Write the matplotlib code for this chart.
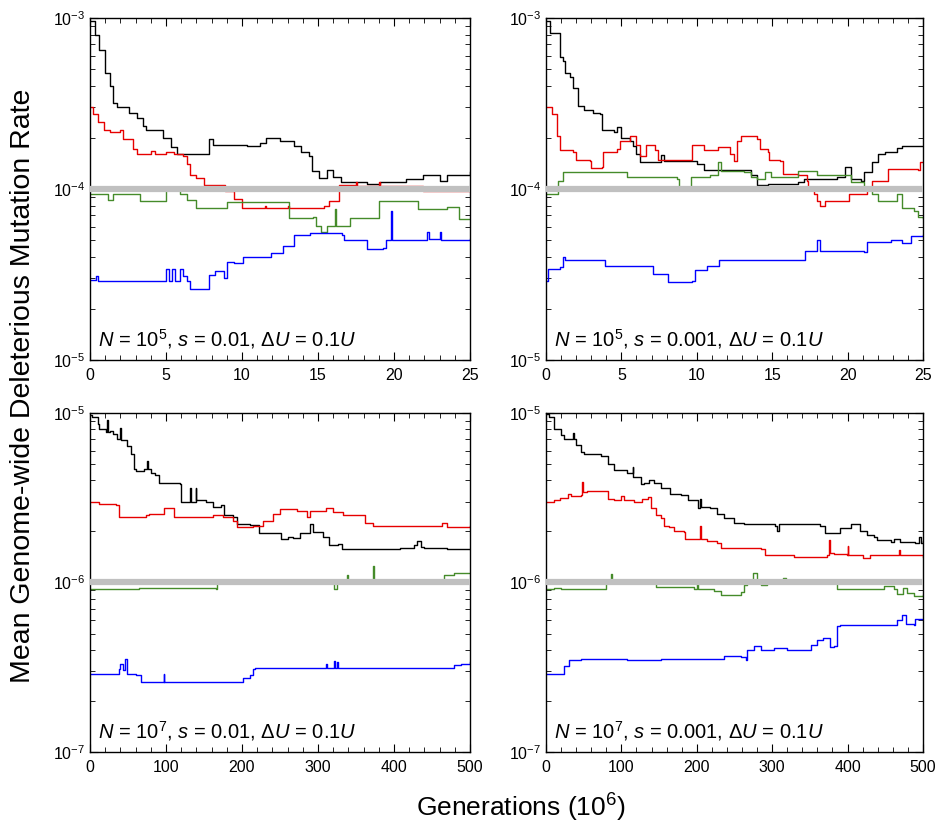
import numpy as np
import matplotlib
matplotlib.use("Agg")
import matplotlib.pyplot as plt
from matplotlib.ticker import LogLocator, MultipleLocator, LogFormatterSciNotation, NullFormatter

plt.rcParams['font.family'] = ['Liberation Sans', 'DejaVu Sans']
plt.rcParams['mathtext.fontset'] = 'custom'
plt.rcParams['mathtext.rm'] = 'Liberation Sans'
plt.rcParams['mathtext.it'] = 'Liberation Sans:italic'

# ---- panel A: N=1e5, s=0.01 (values in units of 1e-4, time in 1e6 generations)
a_black_t = [0, 0.3, 0.6, 1.0, 1.3, 1.5, 1.8, 2.4, 2.6, 3.1, 3.5, 3.7, 4.5, 4.8, 5.3, 5.7, 7.5, 7.8, 8.1, 9.0,
             10.3, 11.2, 11.6, 12.5, 13.4, 13.9, 14.4, 14.6, 15.1, 15.6, 16.0, 16.5, 18.2, 19.1, 20.8, 21.9,
             23.0, 23.5, 24.3, 25]
a_black_v = [9.6, 8.0, 6.5, 4.8, 4.0, 3.2, 3.0, 3.0, 2.8, 2.6, 2.35, 2.2, 2.2, 2.0, 1.75, 1.6, 1.6, 1.95, 1.8, 1.8,
             1.78, 1.85, 1.98, 1.9, 1.78, 1.65, 1.55, 1.28, 1.16, 1.3, 1.18, 1.1, 1.07, 1.1, 1.15, 1.2,
             1.12, 1.2, 1.2, 1.25]
a_red_t = [0, 0.2, 0.5, 0.9, 1.3, 2.0, 2.2, 2.85, 3.1, 4.0, 4.3, 5.0, 5.5, 6.1, 6.4, 6.6, 7.0, 7.5, 8.8, 8.9,
           9.5, 10.0, 11.5, 11.6, 13.0, 13.1, 15.4, 15.7, 16.4, 17.5, 17.6, 19.0, 19.1, 21.9, 25]
a_red_v = [3.0, 2.75, 2.45, 2.2, 2.15, 2.2, 1.95, 1.72, 1.6, 1.66, 1.6, 1.65, 1.6, 1.55, 1.4, 1.2, 1.16, 1.05, 1.05, 0.97,
           0.87, 0.77, 0.8, 0.77, 0.8, 0.77, 0.8, 0.85, 1.05, 1.1, 1.04, 1.1, 1.04, 0.97, 0.97]
a_green_t = [0, 0.66, 1.2, 1.5, 3.3, 5.0, 5.9, 6.4, 7.0, 8.8, 9.0, 13.0, 13.1, 14.7, 14.9, 15.2, 15.6, 16.1, 16.2,
             16.9, 17.1, 18.9, 19.0, 21.4, 21.6, 23.5, 24.3, 25]
a_green_v = [0.93, 0.94, 0.86, 0.93, 0.85, 1.02, 0.94, 0.86, 0.77, 0.77, 0.84, 0.84, 0.68, 0.69, 0.61, 0.56, 0.61, 0.76, 0.61,
             0.61, 0.68, 0.68, 0.85, 0.85, 0.76, 0.78, 0.67, 0.67]
a_blue_t = [0, 0.4, 0.5, 4.8, 5.0, 5.2, 5.4, 5.6, 5.9, 6.1, 6.4, 6.6, 7.7, 7.8, 8.2, 8.8, 9.0, 9.5, 10.1, 11.9,
            12.7, 13.4, 14.5, 16.6, 16.7, 18.2, 19.3, 19.5, 19.8, 19.9, 22.2, 22.3, 23.0, 23.1, 25]
a_blue_v = [0.295, 0.31, 0.29, 0.29, 0.34, 0.29, 0.34, 0.29, 0.34, 0.31, 0.29, 0.26, 0.26, 0.315, 0.33, 0.30, 0.375, 0.37, 0.40, 0.42,
            0.465, 0.54, 0.55, 0.54, 0.50, 0.445, 0.45, 0.505, 0.74, 0.505, 0.56, 0.51, 0.56, 0.505, 0.51]

# ---- panel B: N=1e5, s=0.001 (units 1e-4)
b_black_t = [0, 0.27, 0.9, 1.15, 1.25, 1.6, 1.8, 2.15, 2.5, 3.15, 3.6, 3.7, 4.5, 4.7, 5.0, 5.6, 5.8, 6.0, 6.25, 7.4,
             7.6, 7.8, 9.6, 10.0, 10.5, 13.1, 13.6, 14.0, 14.7, 16.7, 17.1, 19.3, 19.8, 20.2, 20.9, 21.1, 21.6,
             22.0, 22.5, 23.3, 23.6, 25]
b_black_v = [9.6, 8.2, 5.9, 5.6, 4.75, 4.5, 3.9, 3.05, 2.9, 2.8, 2.75, 2.2, 2.15, 2.3, 2.0, 1.9, 1.78, 1.6, 1.43, 1.43,
             1.57, 1.45, 1.45, 1.4, 1.3, 1.3, 1.2, 1.05, 1.07, 1.1, 1.15, 1.17, 1.35, 1.15, 1.12, 1.25, 1.43,
             1.6, 1.65, 1.73, 1.78, 1.78]
b_red_t = [0, 0.38, 0.7, 0.93, 1.8, 2.0, 2.9, 3.0, 3.7, 3.8, 4.7, 4.9, 5.6, 6.0, 6.25, 6.6, 7.25, 7.4, 9.6, 9.7,
           10.5, 11.4, 12.2, 12.5, 12.7, 12.9, 13.6, 14.0, 14.2, 14.7, 14.8, 15.5, 15.7, 16.7, 17.3, 17.4, 17.8,
           18.0, 18.2, 18.5, 19.8, 20.1, 21.1, 21.3, 21.6, 22.5, 22.7, 24.7, 24.8, 25]
b_red_v = [3.0, 2.75, 2.05, 1.68, 1.65, 1.47, 1.45, 1.33, 1.35, 1.65, 1.72, 1.9, 2.03, 1.8, 1.55, 1.8, 1.68, 1.47, 1.47, 1.8,
           1.68, 1.75, 1.6, 1.45, 1.9, 2.05, 2.03, 1.95, 1.72, 1.65, 1.47, 1.45, 1.22, 1.2, 1.12, 0.98, 0.93,
           0.85, 0.8, 0.85, 0.85, 0.94, 0.94, 1.02, 1.12, 1.12, 1.31, 1.3, 1.43, 1.43]
b_green_t = [0, 0.38, 0.8, 1.15, 5.1, 5.4, 6.7, 8.7, 8.8, 9.6, 10.9, 11.4, 11.6, 13.1, 13.6, 14.0, 14.5, 14.9, 16.7,
             17.8, 18.0, 19.1, 20.2, 21.1, 21.6, 22.0, 23.1, 23.3, 23.6, 24.4, 24.7, 25]
b_green_v = [0.93, 0.94, 1.12, 1.25, 1.26, 1.18, 1.17, 1.15, 1.0, 1.18, 1.2, 1.43, 1.28, 1.25, 1.18, 1.15, 1.25, 1.18, 1.28,
             1.28, 1.2, 1.2, 1.1, 1.0, 0.94, 0.85, 0.85, 0.94, 0.77, 0.74, 0.69, 0.68]
b_blue_t = [0, 0.15, 0.9, 1.15, 1.26, 3.8, 3.9, 7.0, 7.1, 8.0, 8.1, 9.7, 9.9, 10.7, 11.5, 17.1, 17.2, 18.0, 18.2,
            21.1, 21.3, 22.9, 23.6, 24.2, 25]
b_blue_v = [0.29, 0.34, 0.35, 0.40, 0.385, 0.385, 0.355, 0.355, 0.32, 0.32, 0.285, 0.29, 0.335, 0.355, 0.385, 0.385, 0.435, 0.505, 0.435,
            0.43, 0.49, 0.5, 0.48, 0.53, 0.54]

# ---- panel C: N=1e7, s=0.01 (units 1e-6)
c_black_t = [0, 3, 10, 12, 21, 23, 24, 27, 30, 36, 40, 41, 49, 54, 58, 60, 71, 75, 77, 80, 85, 91, 118, 120,
             132, 133, 139, 140, 153, 162, 173, 177, 188, 193, 210, 223, 245, 252, 261, 267, 276, 289, 294,
             307, 314, 327, 331, 382, 408, 426, 430, 435, 439, 470, 500]
c_black_v = [9.7, 9.5, 8.6, 8.0, 7.7, 9.1, 7.7, 7.8, 7.5, 7.0, 8.2, 6.9, 6.4, 5.75, 4.7, 4.55, 4.7, 5.2, 4.7, 4.4, 4.3, 3.85, 3.8, 3.0,
             3.6, 3.0, 3.6, 3.05, 3.0, 2.8, 2.85, 2.5, 2.45, 2.2, 2.18, 1.97, 1.95, 1.8, 1.85, 1.82, 1.95, 2.2, 1.98,
             1.85, 1.66, 1.68, 1.57, 1.58, 1.6, 1.66, 1.75, 1.62, 1.6, 1.58, 1.58]
c_red_t = [0, 12, 34, 38, 74, 78, 98, 111, 140, 162, 175, 188, 193, 215, 228, 241, 250, 272, 285, 289, 311,
           320, 333, 351, 362, 373, 457, 463, 470, 500]
c_red_v = [3.0, 2.9, 2.85, 2.45, 2.5, 2.55, 2.75, 2.45, 2.45, 2.5, 2.45, 2.3, 2.12, 2.15, 2.3, 2.55, 2.7, 2.65, 2.45, 2.65, 2.75,
           2.6, 2.5, 2.5, 2.25, 2.15, 2.15, 2.25, 2.13, 2.15]
c_green_t = [0, 43, 65, 166, 167, 215, 320, 321, 325, 338, 340, 372, 374, 466, 479, 500]
c_green_v = [0.91, 0.92, 0.93, 0.92, 1.0, 1.04, 1.04, 0.91, 0.99, 1.1, 1.02, 1.25, 1.02, 1.1, 1.13, 1.13]
c_blue_t = [0, 36, 38, 40, 43, 46, 49, 60, 67, 96, 97, 98, 193, 201, 210, 215, 217, 311, 312, 321, 323, 325, 327,
            474, 479, 488, 500]
c_blue_v = [0.29, 0.29, 0.31, 0.33, 0.305, 0.355, 0.29, 0.285, 0.26, 0.26, 0.29, 0.26, 0.26, 0.275, 0.285, 0.31, 0.315, 0.33, 0.315,
            0.345, 0.315, 0.34, 0.315, 0.315, 0.325, 0.33, 0.34]

# ---- panel D: N=1e7, s=0.001 (units 1e-6)
d_black_t = [0, 4, 11, 20, 24, 35, 36, 37, 40, 46, 51, 73, 82, 90, 108, 115, 116, 126, 130, 137, 143, 152, 165,
             179, 188, 201, 204, 205, 218, 227, 236, 249, 263, 285, 304, 307, 309, 338, 364, 370, 386, 390,
             404, 417, 426, 435, 439, 452, 457, 461, 470, 490, 495, 497, 500]
d_black_v = [9.8, 9.5, 8.1, 7.4, 7.0, 7.0, 7.6, 7.0, 6.5, 5.9, 5.7, 5.6, 5.0, 4.6, 4.45, 4.8, 4.2, 3.8, 3.85, 4.0, 3.85, 3.6, 3.35,
             3.3, 3.05, 2.75, 3.1, 2.8, 2.75, 2.55, 2.4, 2.25, 2.2, 2.2, 2.15, 2.0, 2.2, 2.2, 2.15, 1.95, 1.97, 2.1,
             2.2, 2.0, 1.9, 1.85, 1.77, 1.77, 1.73, 1.8, 1.73, 1.72, 1.85, 1.72, 1.75]
d_red_t = [0, 11, 18, 29, 33, 46, 48, 49, 55, 79, 82, 90, 99, 104, 117, 128, 135, 139, 146, 152, 157, 163, 170,
           183, 185, 201, 204, 206, 214, 227, 232, 285, 291, 329, 373, 375, 377, 382, 399, 400, 401, 421, 430,
           466, 468, 469, 500]
d_red_v = [3.0, 3.05, 3.15, 3.35, 3.25, 3.3, 3.9, 3.4, 3.45, 3.45, 3.1, 3.05, 3.25, 3.05, 3.0, 3.1, 3.2, 2.75, 2.5, 2.4, 2.15, 2.13, 2.0,
           1.98, 1.8, 1.8, 2.15, 1.8, 1.75, 1.72, 1.6, 1.58, 1.45, 1.42, 1.45, 1.78, 1.5, 1.48, 1.45, 1.65, 1.45, 1.4, 1.45,
           1.45, 1.55, 1.45, 1.42]
d_green_t = [0, 11, 20, 79, 80, 86, 87, 143, 146, 196, 200, 202, 223, 232, 249, 258, 263, 267, 274, 280, 285, 293,
             315, 318, 382, 386, 443, 448, 461, 466, 474, 479, 488, 500]
d_green_v = [0.92, 0.93, 0.92, 0.92, 1.0, 1.12, 1.0, 1.0, 0.94, 0.92, 0.98, 0.92, 0.89, 0.84, 0.84, 0.88, 0.96, 1.0, 1.13, 1.0, 0.96, 1.0,
             1.06, 1.0, 1.0, 0.92, 0.92, 0.95, 0.91, 0.85, 0.93, 0.87, 0.83, 0.84]
d_blue_t = [0, 20, 24, 31, 46, 108, 152, 227, 236, 258, 265, 267, 276, 285, 302, 320, 342, 351, 360, 368, 377, 382,
            386, 390, 461, 466, 472, 477, 488, 490, 500]
d_blue_v = [0.29, 0.29, 0.32, 0.35, 0.355, 0.35, 0.352, 0.352, 0.37, 0.365, 0.35, 0.40, 0.42, 0.40, 0.41, 0.40, 0.40, 0.43, 0.46, 0.47, 0.415, 0.42,
            0.555, 0.56, 0.565, 0.6, 0.64, 0.57, 0.565, 0.61, 0.61]

labels = [r"$N$ = 10$^{5}$, $s$ = 0.01, Δ$U$ = 0.1$U$",
          r"$N$ = 10$^{5}$, $s$ = 0.001, Δ$U$ = 0.1$U$",
          r"$N$ = 10$^{7}$, $s$ = 0.01, Δ$U$ = 0.1$U$",
          r"$N$ = 10$^{7}$, $s$ = 0.001, Δ$U$ = 0.1$U$"]
baselines = [1e-4, 1e-4, 1e-6, 1e-6]
units = [1e-4, 1e-4, 1e-6, 1e-6]
ylims = [(1e-5, 1e-3), (1e-5, 1e-3), (1e-7, 1e-5), (1e-7, 1e-5)]
xmax = [25, 25, 500, 500]

panels = [
    [(a_black_t, a_black_v), (a_red_t, a_red_v), (a_green_t, a_green_v), (a_blue_t, a_blue_v)],
    [(b_black_t, b_black_v), (b_red_t, b_red_v), (b_green_t, b_green_v), (b_blue_t, b_blue_v)],
    [(c_black_t, c_black_v), (c_red_t, c_red_v), (c_green_t, c_green_v), (c_blue_t, c_blue_v)],
    [(d_black_t, d_black_v), (d_red_t, d_red_v), (d_green_t, d_green_v), (d_blue_t, d_blue_v)],
]
colors = ['black', '#e60000', '#458b2a', '#0000ff']

fig = plt.figure(figsize=(9.42, 8.3), dpi=100)
positions = [[0.0955, 0.5663, 0.4034, 0.412], [0.5796, 0.5663, 0.4002, 0.412],
             [0.0955, 0.094, 0.4034, 0.4084], [0.5796, 0.094, 0.4002, 0.4084]]

for i in range(4):
    ax = fig.add_axes(positions[i])
    for (t, v), c in zip(panels[i], colors):
        ax.step(t, np.array(v) * units[i], where='post', color=c, lw=1.0)
    ax.axhline(baselines[i], color='#c0c0c0', lw=4.5, zorder=5)
    ax.set_yscale('log')
    ax.set_ylim(*ylims[i])
    ax.set_xlim(0, xmax[i])
    ax.yaxis.set_major_locator(LogLocator(base=10, numticks=10))
    ax.yaxis.set_minor_locator(LogLocator(base=10, subs=np.arange(2, 10), numticks=10))
    ax.yaxis.set_major_formatter(LogFormatterSciNotation())
    ax.yaxis.set_minor_formatter(NullFormatter())
    if xmax[i] == 25:
        ax.xaxis.set_major_locator(MultipleLocator(5))
        ax.xaxis.set_minor_locator(MultipleLocator(1))
    else:
        ax.xaxis.set_major_locator(MultipleLocator(100))
        ax.xaxis.set_minor_locator(MultipleLocator(20))
    ax.tick_params(which='both', direction='in', top=True, right=True)
    ax.tick_params(which='major', length=6, labelsize=11.5)
    ax.tick_params(which='minor', length=3.5)
    ax.tick_params(axis='x', pad=6)
    for sp in ax.spines.values():
        sp.set_linewidth(1.0)
    ax.text(0.02, 0.04, labels[i], transform=ax.transAxes, fontsize=14.5, va='baseline', ha='left')

fig.text(0.024, 0.535, "Mean Genome-wide Deleterious Mutation Rate", rotation=90,
         fontsize=20.5, ha='center', va='center')
fig.text(0.553, 0.027, "Generations (10$^{6}$)", fontsize=19, ha='center', va='center')

fig.savefig("out.png", dpi=100)
